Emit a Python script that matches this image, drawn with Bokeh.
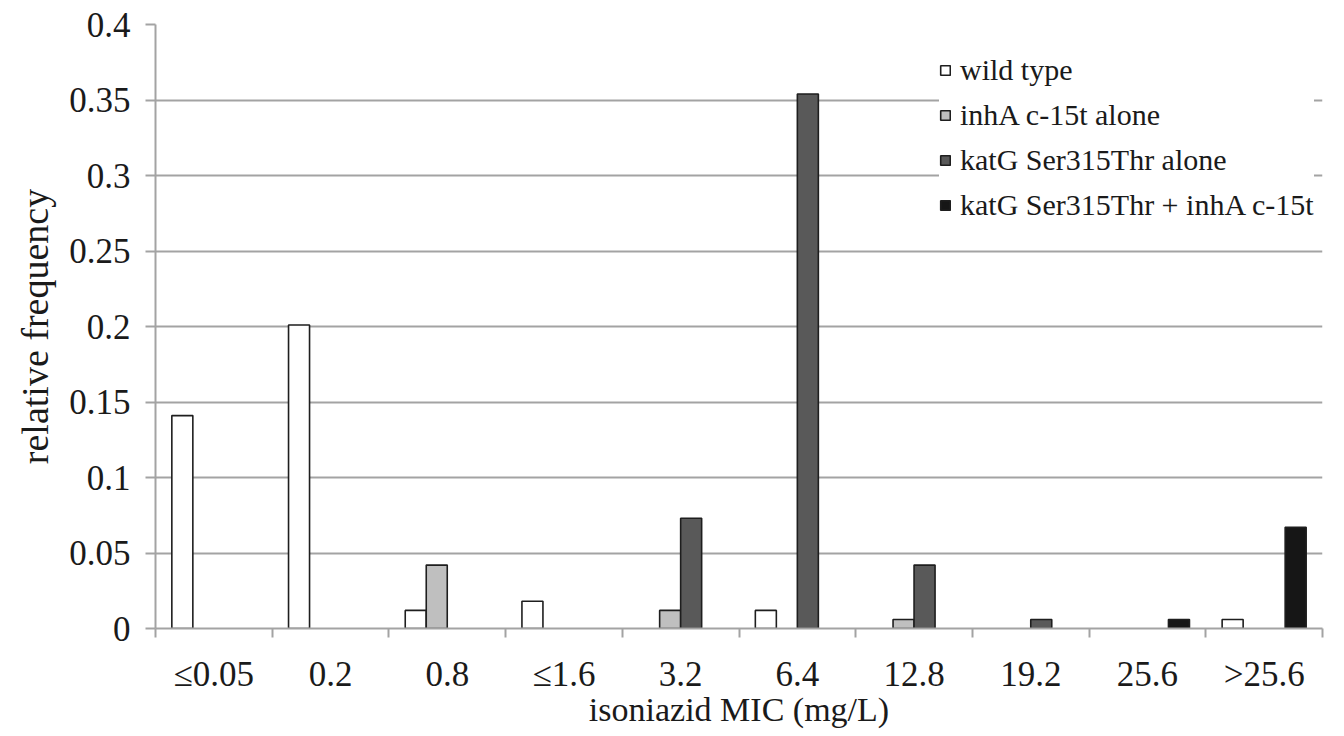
from bokeh.plotting import figure
from bokeh.models import ColumnDataSource, FixedTicker, NumeralTickFormatter, Legend, LegendItem, Range1d
from bokeh.transform import dodge
from bokeh.embed import file_html
from bokeh.resources import INLINE

categories = ["\u22640.05", "0.2", "0.8", "\u22641.6", "3.2", "6.4", "12.8", "19.2", "25.6", ">25.6"]
series_names = ["wild type", "inhA c-15t alone", "katG Ser315Thr alone", "katG Ser315Thr + inhA c-15t"]
wild_type = [0.141, 0.201, 0.012, 0.018, 0.0, 0.012, 0.0, 0.0, 0.0, 0.006]
inhA_alone = [0.0, 0.0, 0.042, 0.0, 0.012, 0.0, 0.006, 0.0, 0.0, 0.0]
katG_alone = [0.0, 0.0, 0.0, 0.0, 0.073, 0.354, 0.042, 0.006, 0.0, 0.0]
katG_inhA = [0.0, 0.0, 0.0, 0.0, 0.0, 0.0, 0.0, 0.0, 0.006, 0.067]
y_ticks = [0, 0.05, 0.1, 0.15, 0.2, 0.25, 0.3, 0.35, 0.4]

fills = ["#ffffff", "#bfbfbf", "#595959", "#161616"]
offsets = [-0.27, -0.09, 0.09, 0.27]
FONT = "Liberation Serif"
GRID = "#a3a3a3"

p = figure(width=1344, height=736, output_backend="svg", toolbar_location=None,
           x_range=Range1d(0, len(categories)), y_range=Range1d(0, 0.4),
           min_border_left=155, min_border_right=22, min_border_top=24, min_border_bottom=108)
p.outline_line_color = None
p.background_fill_color = "white"
p.border_fill_color = "white"

renderers = []
for vals, fill, off in zip([wild_type, inhA_alone, katG_alone, katG_inhA], fills, offsets):
    xs = [i + 0.5 for i, v in enumerate(vals) if v > 0]
    tops = [v for v in vals if v > 0]
    src = ColumnDataSource(dict(x=xs, top=tops))
    r = p.vbar(x=dodge("x", off), top="top", bottom=0, width=0.18, source=src,
               fill_color=fill, line_color="#1e1e1e", line_width=1.6)
    renderers.append(r)

# x axis
xa = p.xaxis[0]
xa.ticker = FixedTicker(ticks=[i + 0.5 for i in range(len(categories))],
                        minor_ticks=list(range(len(categories) + 1)))
xa.major_label_overrides = {i + 0.5: c for i, c in enumerate(categories)}
xa.major_tick_out = 0
xa.major_tick_in = 0
xa.minor_tick_out = 9
xa.minor_tick_in = 0
xa.minor_tick_line_color = GRID
xa.minor_tick_line_width = 2
xa.axis_line_color = GRID
xa.axis_line_width = 2
xa.major_label_text_font = FONT
xa.major_label_text_font_size = "35px"
xa.major_label_text_color = "#1a1a1a"
xa.major_label_standoff = 17
xa.axis_label = "isoniazid MIC (mg/L)"
xa.axis_label_text_font = FONT
xa.axis_label_text_font_size = "34px"
xa.axis_label_text_font_style = "normal"
xa.axis_label_text_color = "#1a1a1a"
xa.axis_label_standoff = -6

# y axis
ya = p.yaxis[0]
ya.ticker = FixedTicker(ticks=y_ticks, minor_ticks=[])
ya.formatter = NumeralTickFormatter(format="0.[00]")
ya.major_tick_out = 10
ya.major_tick_in = 0
ya.major_tick_line_color = GRID
ya.major_tick_line_width = 2
ya.minor_tick_line_color = None
ya.axis_line_color = GRID
ya.axis_line_width = 2
ya.major_label_text_font = FONT
ya.major_label_text_font_size = "35px"
ya.major_label_text_color = "#1a1a1a"
ya.major_label_standoff = 15
ya.axis_label = "relative frequency"
ya.axis_label_text_font = FONT
ya.axis_label_text_font_size = "38px"
ya.axis_label_text_font_style = "normal"
ya.axis_label_text_color = "#1a1a1a"
ya.axis_label_standoff = 10

p.xgrid.grid_line_color = None
p.ygrid.ticker = FixedTicker(ticks=y_ticks)
p.ygrid.grid_line_color = GRID
p.ygrid.grid_line_width = 2

legend = Legend(items=[LegendItem(label=n, renderers=[r]) for n, r in zip(series_names, renderers)],
                location=(784, 406), glyph_width=12, glyph_height=12, label_standoff=9,
                spacing=11, padding=4, margin=0,
                label_text_font=FONT, label_text_font_size="30px", label_text_color="#1a1a1a",
                border_line_color=None, background_fill_color="white", background_fill_alpha=1.0)
p.add_layout(legend, "center")

open("out.html", "w").write(file_html(p, INLINE))
